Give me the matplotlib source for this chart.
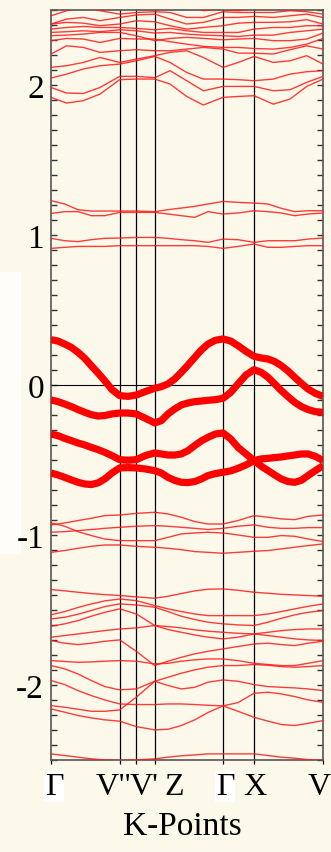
import numpy as np
import matplotlib
matplotlib.use('Agg')
from matplotlib import pyplot as plt
from matplotlib.patches import Rectangle

plt.rcParams['font.family'] = ['Liberation Serif', 'DejaVu Serif']
plt.rcParams['axes.unicode_minus'] = False

# k-path (high symmetry points) and labels
kpts = [0, 0.687, 0.853, 1.037, 1.72, 2.03, 2.72]
klabels = ['\u0393', 'V"', "V'", 'Z', '\u0393', 'X', 'V']
# where the labels sit (crowded ones are pushed apart, like the original)
klabel_pos = [0.03, 0.625, 0.93, 1.23, 1.74, 2.04, 2.68]

# sample positions along the path
k39 = [0, 0.07, 0.137, 0.203, 0.27, 0.337, 0.403, 0.47, 0.537, 0.61,
       0.687, 0.77, 0.853, 0.943, 1.037, 1.103, 1.17, 1.237, 1.303, 1.37,
       1.437, 1.503, 1.57, 1.643, 1.72, 1.797, 1.87, 1.95, 2.03, 2.103,
       2.17, 2.237, 2.303, 2.37, 2.437, 2.503, 2.57, 2.643, 2.72]
k20 = [0, 0.137, 0.27, 0.403, 0.537, 0.687, 0.853, 1.037, 1.17, 1.303,
       1.437, 1.57, 1.72, 1.87, 2.03, 2.17, 2.303, 2.437, 2.57, 2.72]
k17 = [0, 0.157, 0.323, 0.49, 0.687, 0.853, 1.037, 1.19, 1.357, 1.523,
       1.72, 1.873, 2.03, 2.223, 2.39, 2.557, 2.72]

# bands near the Fermi level (thick)
band_a = [0.302, 0.293, 0.273, 0.251, 0.218, 0.178, 0.129, 0.080, 0.029, -0.031,
          -0.071, -0.076, -0.067, -0.044, -0.022, -0.011, 0.007, 0.040, 0.084, 0.133,
          0.184, 0.233, 0.273, 0.298, 0.307, 0.293, 0.262, 0.224, 0.191, 0.180,
          0.173, 0.156, 0.129, 0.093, 0.051, 0.011, -0.027, -0.056, -0.076]
band_b = [-0.100, -0.111, -0.127, -0.144, -0.164, -0.182, -0.198, -0.207, -0.204, -0.193,
          -0.187, -0.187, -0.193, -0.222, -0.253, -0.238, -0.193, -0.160, -0.133, -0.120,
          -0.111, -0.107, -0.102, -0.098, -0.089, -0.049, 0.007, 0.067, 0.102, 0.084,
          0.051, 0.007, -0.038, -0.078, -0.116, -0.144, -0.164, -0.178, -0.182]
band_c = [-0.327, -0.338, -0.356, -0.371, -0.387, -0.400, -0.416, -0.431, -0.449, -0.471,
          -0.498, -0.502, -0.498, -0.471, -0.453, -0.460, -0.467, -0.467, -0.460, -0.438,
          -0.404, -0.373, -0.349, -0.327, -0.320, -0.360, -0.416, -0.460, -0.504, -0.542,
          -0.571, -0.600, -0.627, -0.644, -0.649, -0.636, -0.604, -0.571, -0.538]
band_d = [-0.587, -0.600, -0.616, -0.633, -0.649, -0.660, -0.664, -0.653, -0.627, -0.587,
          -0.553, -0.551, -0.553, -0.560, -0.571, -0.587, -0.616, -0.636, -0.649, -0.651,
          -0.644, -0.627, -0.604, -0.591, -0.582, -0.573, -0.556, -0.533, -0.504, -0.493,
          -0.489, -0.484, -0.480, -0.473, -0.467, -0.460, -0.460, -0.476, -0.504]

# conduction bands around 1 eV
cb1 = [1.229, 1.207, 1.169, 1.160, 1.160, 1.160, 1.160, 1.156, 1.169, 1.180,
       1.191, 1.207, 1.224, 1.218, 1.213, 1.207, 1.178, 1.156, 1.162, 1.162]
cb2 = [1.144, 1.156, 1.156, 1.129, 1.129, 1.151, 1.151, 1.151, 1.140, 1.129,
       1.118, 1.156, 1.140, 1.147, 1.162, 1.156, 1.147, 1.129, 1.140, 1.147]
cb3 = [0.978, 0.962, 0.956, 0.969, 0.978, 0.980, 0.984, 0.984, 0.978, 0.969,
       0.962, 0.951, 0.973, 0.969, 0.951, 0.962, 0.962, 0.962, 0.973, 0.980]
cb4 = [0.911, 0.918, 0.924, 0.924, 0.924, 0.929, 0.929, 0.929, 0.929, 0.929,
       0.929, 0.924, 0.911, 0.924, 0.940, 0.918, 0.918, 0.924, 0.929, 0.929]

# upper conduction bands (above ~1.9 eV)
up1 = [1.918, 1.880, 1.896, 1.940, 2.036, 2.040, 2.040, 2.007, 1.924, 1.867, 1.918, 1.924, 1.929, 1.873, 1.907, 1.991, 2.040]
up2 = [1.984, 1.947, 1.944, 1.984, 2.058, 2.058, 2.049, 2.096, 2.029, 1.962, 1.991, 1.991, 1.991, 1.962, 1.969, 2.018, 2.058]
up3 = [2.047, 2.073, 2.107, 2.129, 2.140, 2.162, 2.191, 2.151, 2.084, 2.040, 2.040, 2.036, 2.029, 2.040, 2.073, 2.089, 2.096]
up4 = [2.118, 2.129, 2.151, 2.184, 2.151, 2.173, 2.196, 2.218, 2.229, 2.184, 2.118, 2.151, 2.191, 2.151, 2.162, 2.196, 2.140]
up5 = [2.207, 2.262, 2.251, 2.218, 2.229, 2.236, 2.229, 2.229, 2.240, 2.251, 2.240, 2.213, 2.213, 2.207, 2.236, 2.262, 2.240]
up6 = [2.296, 2.311, 2.307, 2.284, 2.311, 2.307, 2.307, 2.289, 2.273, 2.258, 2.251, 2.251, 2.244, 2.240, 2.251, 2.273, 2.311]
up7 = [2.329, 2.333, 2.340, 2.351, 2.351, 2.329, 2.296, 2.311, 2.318, 2.311, 2.302, 2.307, 2.311, 2.296, 2.296, 2.307, 2.347]
up8 = [2.351, 2.356, 2.362, 2.356, 2.369, 2.362, 2.347, 2.351, 2.340, 2.333, 2.329, 2.324, 2.333, 2.333, 2.351, 2.362, 2.373]
up9 = [2.373, 2.384, 2.391, 2.384, 2.384, 2.378, 2.369, 2.378, 2.362, 2.351, 2.351, 2.351, 2.373, 2.384, 2.384, 2.396, 2.396]
up10 = [2.407, 2.418, 2.413, 2.396, 2.407, 2.429, 2.422, 2.396, 2.373, 2.384, 2.396, 2.413, 2.418, 2.418, 2.422, 2.436, 2.407]
up11 = [2.407, 2.440, 2.451, 2.429, 2.451, 2.467, 2.473, 2.440, 2.407, 2.418, 2.451, 2.451, 2.458, 2.451, 2.462, 2.473, 2.451]
up12 = [2.462, 2.496, 2.518, 2.496, 2.473, 2.484, 2.489, 2.484, 2.451, 2.451, 2.489, 2.484, 2.484, 2.484, 2.496, 2.489, 2.473]
up13 = [2.496, 2.540, 2.573, 2.562, 2.529, 2.540, 2.562, 2.551, 2.529, 2.496, 2.507, 2.496, 2.507, 2.529, 2.551, 2.562, 2.507]

# valence bands below -0.8 eV
vb1 = [-0.933, -0.920, -0.904, -0.889, -0.871, -0.867, -0.856, -0.849, -0.860, -0.882,
       -0.911, -0.927, -0.927, -0.904, -0.871, -0.882, -0.893, -0.898, -0.876, -0.867]
vb2 = [-0.982, -0.978, -0.971, -0.964, -0.956, -0.949, -0.942, -0.938, -0.942, -0.949,
       -0.956, -0.964, -0.956, -0.942, -0.933, -0.949, -0.956, -0.956, -0.951, -0.951]
vb3 = [-0.920, -0.942, -0.978, -1.004, -1.027, -1.038, -1.038, -1.038, -1.016, -0.993,
       -0.987, -0.982, -0.987, -1.000, -1.016, -1.016, -1.004, -1.009, -1.027, -1.044]
vb4 = [-1.116, -1.104, -1.089, -1.076, -1.067, -1.067, -1.076, -1.082, -1.089, -1.098,
       -1.111, -1.116, -1.122, -1.116, -1.109, -1.104, -1.093, -1.082, -1.071, -1.060]
vb5 = [-1.364, -1.373, -1.382, -1.391, -1.398, -1.404, -1.413, -1.422, -1.409, -1.391,
       -1.373, -1.362, -1.360, -1.369, -1.382, -1.389, -1.396, -1.400, -1.404, -1.409]
vb6 = [-1.533, -1.511, -1.484, -1.460, -1.440, -1.427, -1.438, -1.471, -1.493, -1.511,
       -1.527, -1.538, -1.538, -1.538, -1.538, -1.527, -1.511, -1.493, -1.476, -1.460]
vb7 = [-1.560, -1.549, -1.529, -1.504, -1.478, -1.460, -1.467, -1.482, -1.511, -1.542,
       -1.564, -1.582, -1.593, -1.600, -1.604, -1.582, -1.556, -1.533, -1.516, -1.504]
vb8 = [-1.609, -1.593, -1.571, -1.542, -1.516, -1.493, -1.527, -1.604, -1.631, -1.649,
       -1.667, -1.682, -1.693, -1.682, -1.660, -1.649, -1.638, -1.631, -1.627, -1.627]
vb9 = [-1.682, -1.671, -1.660, -1.649, -1.638, -1.627, -1.620, -1.604, -1.611, -1.620,
       -1.633, -1.642, -1.649, -1.656, -1.660, -1.671, -1.682, -1.693, -1.700, -1.704]
vb10 = [-1.704, -1.722, -1.731, -1.722, -1.709, -1.700, -1.776, -1.871, -1.842, -1.816,
        -1.793, -1.776, -1.760, -1.744, -1.727, -1.722, -1.731, -1.738, -1.722, -1.709]
vb11 = [-1.838, -1.844, -1.849, -1.847, -1.842, -1.838, -1.842, -1.860, -1.856, -1.842,
        -1.833, -1.827, -1.827, -1.838, -1.856, -1.864, -1.871, -1.871, -1.856, -1.838]
vb12 = [-2.138, -2.149, -2.162, -2.176, -2.176, -2.167, -2.082, -1.976, -1.949, -1.922,
        -1.900, -1.882, -1.871, -1.871, -1.864, -1.869, -1.878, -1.882, -1.878, -1.871]
vb13 = [-1.871, -1.893, -1.927, -1.971, -2.011, -2.033, -2.027, -1.976, -2.004, -2.027,
        -2.016, -1.982, -1.967, -1.976, -1.998, -2.011, -2.016, -2.020, -2.027, -2.038]
vb14 = [-1.971, -1.998, -2.038, -2.071, -2.100, -2.127, -2.131, -2.131, -2.127, -2.127,
        -2.131, -2.136, -2.140, -2.118, -2.056, -2.049, -2.060, -2.078, -2.100, -2.116]
vb15 = [-2.160, -2.182, -2.204, -2.220, -2.233, -2.242, -2.278, -2.300, -2.296, -2.271,
        -2.233, -2.184, -2.140, -2.176, -2.216, -2.242, -2.264, -2.271, -2.256, -2.238]
vb16 = [-2.460, -2.471, -2.482, -2.493, -2.500, -2.504, -2.500, -2.493, -2.482, -2.473,
        -2.467, -2.460, -2.460, -2.460, -2.460, -2.471, -2.482, -2.489, -2.498, -2.504]

thin20 = [cb1, cb2, cb3, cb4, vb1, vb2, vb3, vb4, vb5, vb6, vb7, vb8, vb9,
          vb10, vb11, vb12, vb13, vb14, vb15, vb16]
thin17 = [up1, up2, up3, up4, up5, up6, up7, up8, up9, up10, up11, up12, up13]
thick = [band_a, band_b, band_c, band_d]

bg = '#fdf9ea'
fig = plt.figure(figsize=(3.31, 8.53), dpi=100, facecolor=bg)
ax = fig.add_axes([0.154, 0.108, 0.822, 0.879], facecolor=bg)

# faint fragment of a neighbouring panel at the left edge
fig.patches.append(Rectangle((0, 0.349), 0.064, 0.331, transform=fig.transFigure,
                             facecolor='#fffdf7', edgecolor='none', zorder=-1))

for b in thin20:
    ax.plot(k20, b, color='#ff1a1a', lw=1.0, alpha=0.85, zorder=3)
for b in thin17:
    ax.plot(k17, b, color='#ff1a1a', lw=1.0, alpha=0.85, zorder=3)
for b in thick:
    ax.plot(k39, b, color='#ff0000', lw=5.2, solid_capstyle='butt',
            solid_joinstyle='round', zorder=4)

for kp in kpts[1:-1]:
    ax.axvline(kp, color='black', lw=0.9, zorder=2)
ax.axhline(0, color='black', lw=0.8, zorder=2)

ax.set_xlim(kpts[0], kpts[-1])
ax.set_ylim(-2.5, 2.5)

ax.set_xticks(kpts)
ax.set_xticklabels([''] * len(kpts))
ax.tick_params(axis='x', direction='out', length=3, width=0.9)
trans = ax.get_xaxis_transform()
for pos, lab in zip(klabel_pos, klabels):
    box = dict(facecolor='white', edgecolor='none', pad=0.5) if lab == '\u0393' else None
    ax.text(pos, -0.016, lab, transform=trans, ha='center', va='top',
            fontsize=23, bbox=box, clip_on=False)

ax.set_yticks([-2, -1, 0, 1, 2])
ax.set_yticklabels(['-2', '-1', '0', '1', '2'], fontsize=24)
ax.set_yticks(np.arange(-2.5, 2.51, 0.1), minor=True)
ax.tick_params(axis='y', which='both', direction='in', left=True, right=True,
               length=4, width=1.0, color='#333333', pad=5)

for s in ax.spines.values():
    s.set_color('#555555')
    s.set_linewidth(1.2)

fig.text(0.552, 0.0305, 'K-Points', fontsize=24, ha='center', va='center')

fig.savefig('out.png', dpi=100, facecolor=bg)
